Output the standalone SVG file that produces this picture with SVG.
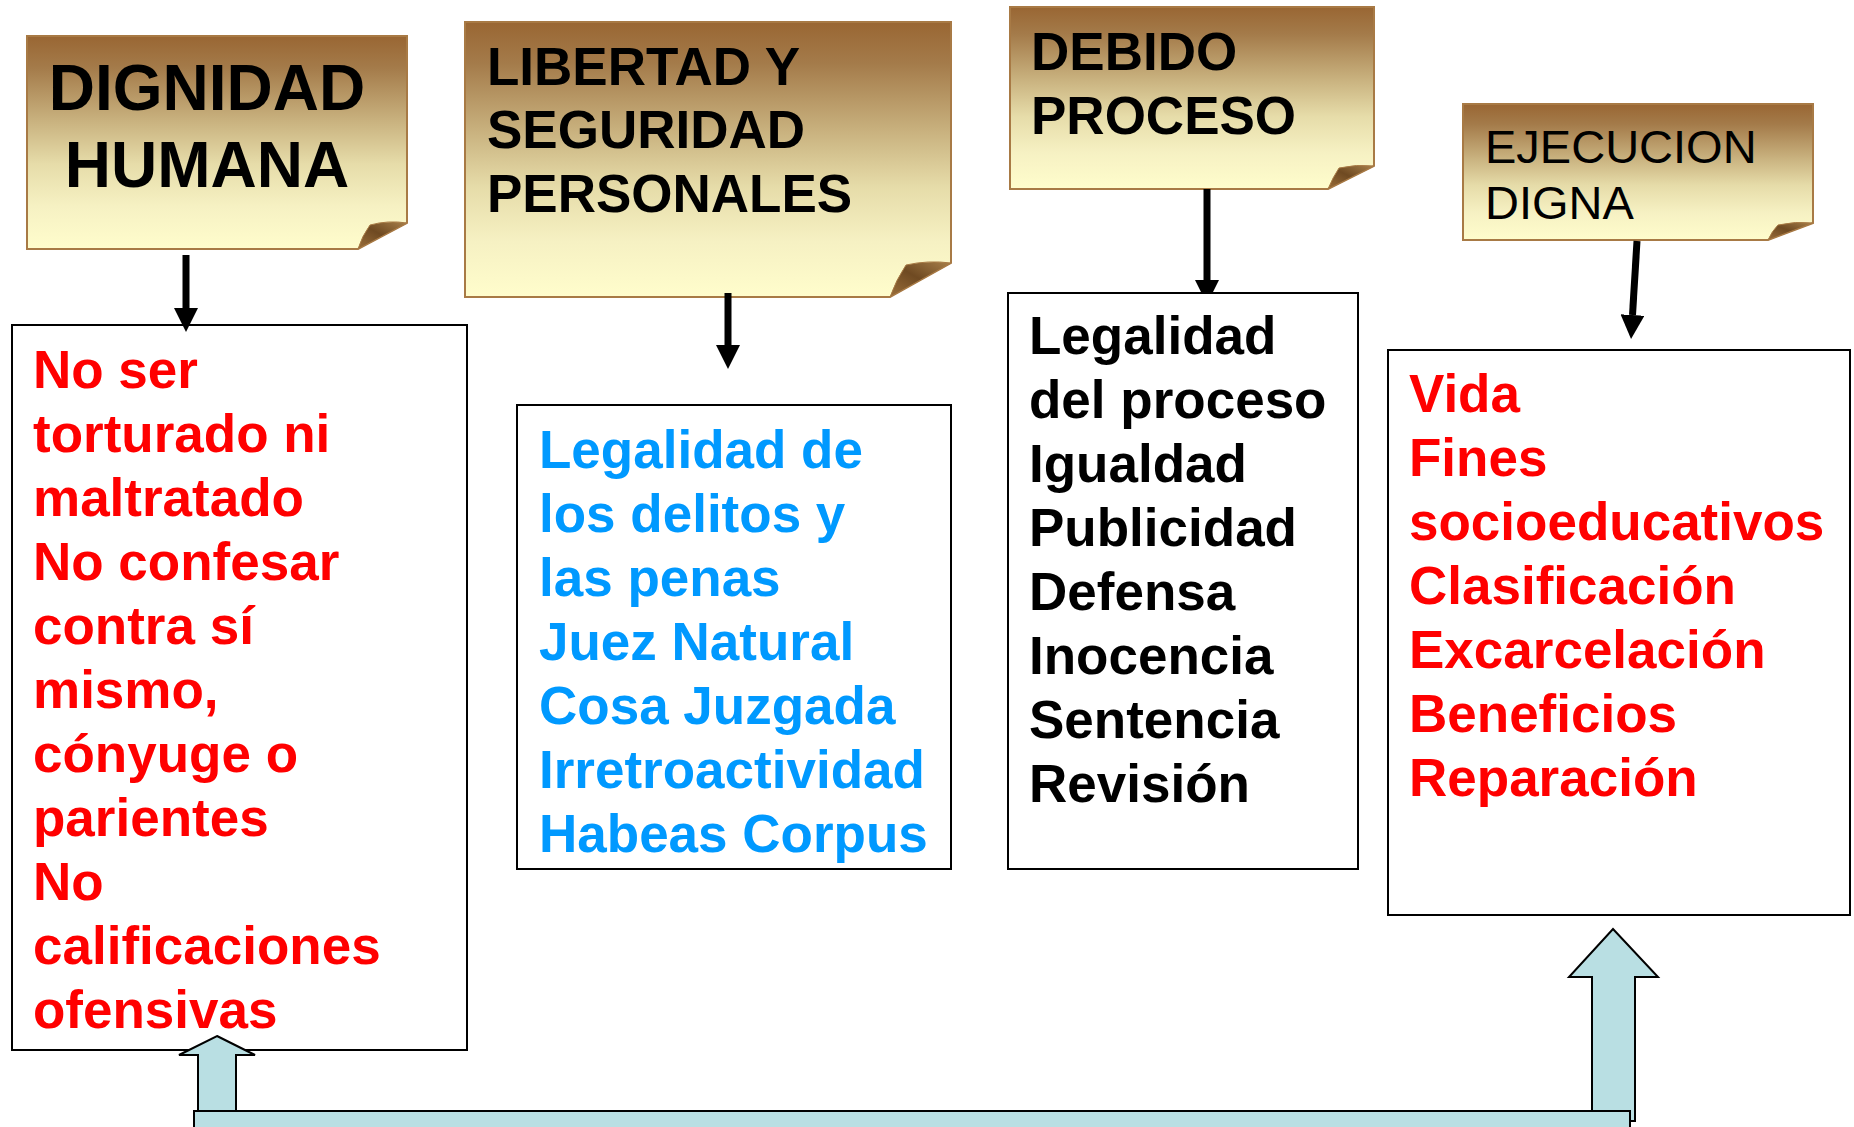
<svg xmlns="http://www.w3.org/2000/svg" width="1854" height="1127" viewBox="0 0 1854 1127">
<defs>
<linearGradient id="paper" x1="0" y1="0" x2="0" y2="1">
<stop offset="0" stop-color="#996633"/>
<stop offset="0.15" stop-color="#A47B4A"/>
<stop offset="0.4" stop-color="#C9B27F"/>
<stop offset="0.6" stop-color="#E6DCA9"/>
<stop offset="0.8" stop-color="#F6F1C3"/>
<stop offset="1" stop-color="#FFFDCC"/>
</linearGradient>
<linearGradient id="curl" x1="0" y1="1" x2="1" y2="0">
<stop offset="0" stop-color="#9A6E3A"/>
<stop offset="0.5" stop-color="#6F4A22"/>
<stop offset="1" stop-color="#A8804A"/>
</linearGradient>
<marker id="ah" viewBox="0 0 24 24" refX="0" refY="12" markerWidth="24" markerHeight="24" markerUnits="userSpaceOnUse" orient="auto">
<path d="M0,0 L24,12 L0,24 Z" fill="#000"/>
</marker>
<style>
.note{fill:url(#paper);stroke:#A87A45;stroke-width:2}
.curl{fill:url(#curl);stroke:#A87A45;stroke-width:1}
.box{fill:#fff;stroke:#000;stroke-width:2}
.t{font-family:"Liberation Sans",Arial,Helvetica,sans-serif;font-weight:bold;font-size:53px}
.h{font-family:"Liberation Sans",Arial,Helvetica,sans-serif;font-weight:bold;font-size:53px;fill:#000}
.red{fill:#FF0000}
.blue{fill:#0099FF}
.blk{fill:#000}
.arr{stroke:#000;stroke-width:7;fill:none;marker-end:url(#ah)}
.blk-arrow{fill:#B9DFE3;stroke:#000;stroke-width:2}
</style>
</defs>

<g id="note-dignidad">
<path class="note" d="M27,36 H407 V223 L358,249 H27 Z"/>
<path class="curl" d="M358,249 Q362,236 370,225 Q388,220 407,223 Z"/>
<text class="h" text-anchor="middle" style="font-size:64px"><tspan x="207" y="110">DIGNIDAD</tspan><tspan x="207" y="187">HUMANA</tspan></text>
</g>

<g id="note-libertad">
<path class="note" d="M465,22 H951 V263 L890,297 H465 Z"/>
<path class="curl" d="M890,297 Q896,280 906,265 Q928,260 951,263 Z"/>
<text class="h"><tspan x="487" y="85">LIBERTAD Y</tspan><tspan x="487" y="148">SEGURIDAD</tspan><tspan x="487" y="212">PERSONALES</tspan></text>
</g>

<g id="note-debido">
<path class="note" d="M1010,7 H1374 V166 L1328,189 H1010 Z"/>
<path class="curl" d="M1328,189 Q1333,177 1339,168 Q1356,164 1374,166 Z"/>
<text class="h"><tspan x="1031" y="70">DEBIDO</tspan><tspan x="1031" y="134">PROCESO</tspan></text>
</g>

<g id="note-ejecucion">
<path class="note" d="M1463,104 H1813 V223 L1768,240 H1463 Z"/>
<path class="curl" d="M1768,240 Q1772,231 1778,225 Q1795,221 1813,223 Z"/>
<text class="h" style="font-weight:normal;font-size:47px"><tspan x="1485" y="163">EJECUCION</tspan><tspan x="1485" y="219">DIGNA</tspan></text>
</g>

<g id="box-dignidad">
<rect class="box" x="12" y="325" width="455" height="725"/>
<text class="t red">
<tspan x="33" y="388">No ser</tspan>
<tspan x="33" y="452">torturado ni</tspan>
<tspan x="33" y="516">maltratado</tspan>
<tspan x="33" y="580">No confesar</tspan>
<tspan x="33" y="644">contra sí</tspan>
<tspan x="33" y="708">mismo,</tspan>
<tspan x="33" y="772">cónyuge o</tspan>
<tspan x="33" y="836">parientes</tspan>
<tspan x="33" y="900">No</tspan>
<tspan x="33" y="964">calificaciones</tspan>
<tspan x="33" y="1028">ofensivas</tspan>
</text>
</g>

<g id="box-libertad">
<rect class="box" x="517" y="405" width="434" height="464"/>
<text class="t blue">
<tspan x="539" y="468">Legalidad de</tspan>
<tspan x="539" y="532">los delitos y</tspan>
<tspan x="539" y="596">las penas</tspan>
<tspan x="539" y="660">Juez Natural</tspan>
<tspan x="539" y="724">Cosa Juzgada</tspan>
<tspan x="539" y="788">Irretroactividad</tspan>
<tspan x="539" y="852">Habeas Corpus</tspan>
</text>
</g>

<g id="box-ejecucion">
<rect class="box" x="1388" y="350" width="462" height="565"/>
<text class="t red">
<tspan x="1409" y="412">Vida</tspan>
<tspan x="1409" y="476">Fines</tspan>
<tspan x="1409" y="540">socioeducativos</tspan>
<tspan x="1409" y="604">Clasificación</tspan>
<tspan x="1409" y="668">Excarcelación</tspan>
<tspan x="1409" y="732">Beneficios</tspan>
<tspan x="1409" y="796">Reparación</tspan>
</text>
</g>

<g id="connectors">
<line class="arr" x1="186" y1="255" x2="186" y2="308"/>
<line class="arr" x1="728" y1="293" x2="728" y2="345"/>
<line class="arr" x1="1207" y1="189" x2="1207" y2="280"/>
<line class="arr" x1="1637" y1="241" x2="1632.5" y2="315"/>
<path class="blk-arrow" d="M217,1036 L255,1055 L236,1055 L236,1121 L198,1121 L198,1055 L179,1055 Z"/>
<path class="blk-arrow" d="M1613,929 L1658,977 L1635,977 L1635,1121 L1592,1121 L1592,977 L1569,977 Z"/>
<rect class="blk-arrow" x="194" y="1111" width="1436" height="40"/>
</g>

<g id="box-debido">
<rect class="box" x="1008" y="293" width="350" height="576"/>
<text class="t blk">
<tspan x="1029" y="354">Legalidad</tspan>
<tspan x="1029" y="418">del proceso</tspan>
<tspan x="1029" y="482">Igualdad</tspan>
<tspan x="1029" y="546">Publicidad</tspan>
<tspan x="1029" y="610">Defensa</tspan>
<tspan x="1029" y="674">Inocencia</tspan>
<tspan x="1029" y="738">Sentencia</tspan>
<tspan x="1029" y="802">Revisión</tspan>
</text>
</g>
</svg>
